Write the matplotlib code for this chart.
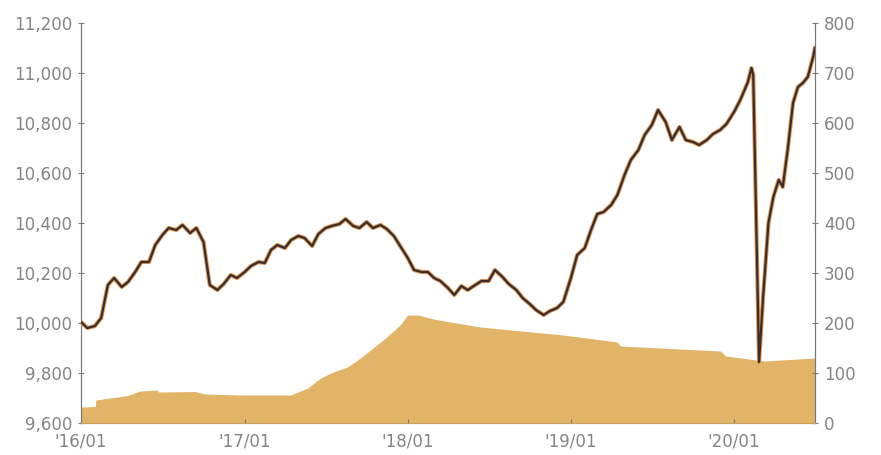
import pandas as pd
import matplotlib
matplotlib.use('Agg')
import matplotlib.pyplot as plt
import matplotlib.dates as mdates
from matplotlib.ticker import FuncFormatter

# price series (left axis)
price_dates = [
    "2016-01-01", "2016-01-15", "2016-02-01", "2016-02-15", "2016-03-01", "2016-03-15",
    "2016-04-01", "2016-04-15", "2016-05-01", "2016-05-15", "2016-06-01", "2016-06-15",
    "2016-07-01", "2016-07-15", "2016-08-01", "2016-08-15", "2016-09-01", "2016-09-15",
    "2016-10-01", "2016-10-15", "2016-11-01", "2016-11-15", "2016-12-01", "2016-12-15",
    "2017-01-01", "2017-01-15", "2017-02-01", "2017-02-15", "2017-03-01", "2017-03-15",
    "2017-04-01", "2017-04-15", "2017-05-01", "2017-05-15", "2017-06-01", "2017-06-15",
    "2017-07-01", "2017-07-15", "2017-08-01", "2017-08-15", "2017-09-01", "2017-09-15",
    "2017-10-01", "2017-10-15", "2017-11-01", "2017-11-15", "2017-12-01", "2017-12-15",
    "2018-01-01", "2018-01-15", "2018-02-01", "2018-02-15", "2018-03-01", "2018-03-15",
    "2018-04-01", "2018-04-15", "2018-05-01", "2018-05-15", "2018-06-01", "2018-06-15",
    "2018-07-01", "2018-07-15", "2018-08-01", "2018-08-15", "2018-09-01", "2018-09-15",
    "2018-10-01", "2018-10-15", "2018-11-01", "2018-11-15", "2018-12-01", "2018-12-15",
    "2019-01-01", "2019-01-15", "2019-02-01", "2019-02-15", "2019-03-01", "2019-03-15",
    "2019-04-01", "2019-04-15", "2019-05-01", "2019-05-15", "2019-06-01", "2019-06-15",
    "2019-07-01", "2019-07-15", "2019-08-01", "2019-08-15", "2019-09-01", "2019-09-15",
    "2019-10-01", "2019-10-15", "2019-11-01", "2019-11-15", "2019-12-01", "2019-12-15",
    "2020-01-01", "2020-01-15", "2020-02-01", "2020-02-09", "2020-02-13", "2020-02-26",
    "2020-03-06", "2020-03-18", "2020-03-29", "2020-04-10", "2020-04-19", "2020-04-30",
    "2020-05-12", "2020-05-23", "2020-06-03", "2020-06-14", "2020-06-26", "2020-06-30",
]
price_values = [
    10004, 9980, 9988, 10020, 10152, 10180,
    10144, 10164, 10204, 10244, 10244, 10312,
    10352, 10380, 10372, 10392, 10360, 10380,
    10324, 10152, 10132, 10156, 10192, 10180,
    10204, 10228, 10244, 10240, 10292, 10312,
    10300, 10332, 10348, 10340, 10308, 10356,
    10380, 10388, 10396, 10416, 10388, 10380,
    10404, 10380, 10392, 10376, 10348, 10308,
    10260, 10212, 10204, 10204, 10180, 10168,
    10140, 10112, 10148, 10132, 10152, 10168,
    10168, 10212, 10184, 10156, 10132, 10100,
    10076, 10052, 10032, 10048, 10060, 10084,
    10180, 10272, 10300, 10372, 10436, 10444,
    10472, 10512, 10592, 10652, 10692, 10752,
    10792, 10852, 10804, 10732, 10784, 10732,
    10724, 10712, 10732, 10756, 10772, 10796,
    10844, 10892, 10964, 11020, 10992, 9844,
    10104, 10400, 10504, 10572, 10544, 10692,
    10880, 10944, 10960, 10984, 11064, 11100,
]

# net assets (right axis)
asset_dates = [
    "2016-01-01", "2016-02-02", "2016-02-03", "2016-04-14", "2016-05-12", "2016-06-19",
    "2016-06-22", "2016-09-12", "2016-10-04", "2016-12-22", "2017-04-14", "2017-05-22",
    "2017-06-20", "2017-07-18", "2017-08-19", "2017-09-17", "2017-11-07", "2017-12-15",
    "2018-01-01", "2018-01-23", "2018-02-28", "2018-04-06", "2018-06-12", "2018-12-15",
    "2019-04-15", "2019-04-22", "2019-12-02", "2019-12-13", "2020-03-08", "2020-06-30",
]
asset_values = [
    32, 33, 46, 55, 64, 66,
    62, 63, 58, 56, 56, 70,
    90, 102, 112, 130, 166, 196,
    216, 216, 208, 202, 192, 176,
    162, 154, 144, 134, 124, 130,
]

px = pd.to_datetime(price_dates)
ax_dates = pd.to_datetime(asset_dates)

fig = plt.figure(figsize=(8.81, 4.55), dpi=100)
ax1 = fig.add_axes([0.092, 0.0703, 0.833, 0.8792])
ax2 = ax1.twinx()

# area on the right axis, drawn behind the line
ax2.fill_between(ax_dates, 0, asset_values, color="#e2b468", linewidth=0, zorder=1)
ax2.set_ylim(0, 800)
ax1.set_zorder(ax2.get_zorder() + 1)
ax1.patch.set_visible(False)

ax1.plot(px, price_values, color="#dc9552", linewidth=3.0, solid_joinstyle="round", zorder=3)
ax1.plot(px, price_values, color="#3a2d2b", linewidth=1.6, solid_joinstyle="round", zorder=4)

ax1.set_ylim(9600, 11200)
ax1.set_yticks(range(9600, 11201, 200))
ax1.yaxis.set_major_formatter(FuncFormatter(lambda v, p: f"{v:,.0f}"))
ax2.set_yticks(range(0, 801, 100))

ax1.set_xlim(pd.Timestamp("2016-01-01"), pd.Timestamp("2020-06-30"))
ax1.xaxis.set_major_locator(mdates.YearLocator())
ax1.xaxis.set_major_formatter(mdates.DateFormatter("'%y/%m"))

grey = "#7a7a7a"
for ax in (ax1, ax2):
    ax.spines["top"].set_visible(False)
    ax.spines["left"].set_color(grey)
    ax.spines["right"].set_color(grey)
    ax.spines["bottom"].set_color("#c9a060")
    ax.tick_params(colors=grey, labelsize=12, width=0.8)
ax1.tick_params(axis="y", direction="inout", length=5, pad=4, labelcolor="#858585")
ax2.tick_params(axis="y", direction="inout", length=5, pad=4, labelcolor="#858585")
ax1.tick_params(axis="x", direction="in", length=3, pad=7, labelcolor="#858585")

fig.savefig("out.png", dpi=100)
